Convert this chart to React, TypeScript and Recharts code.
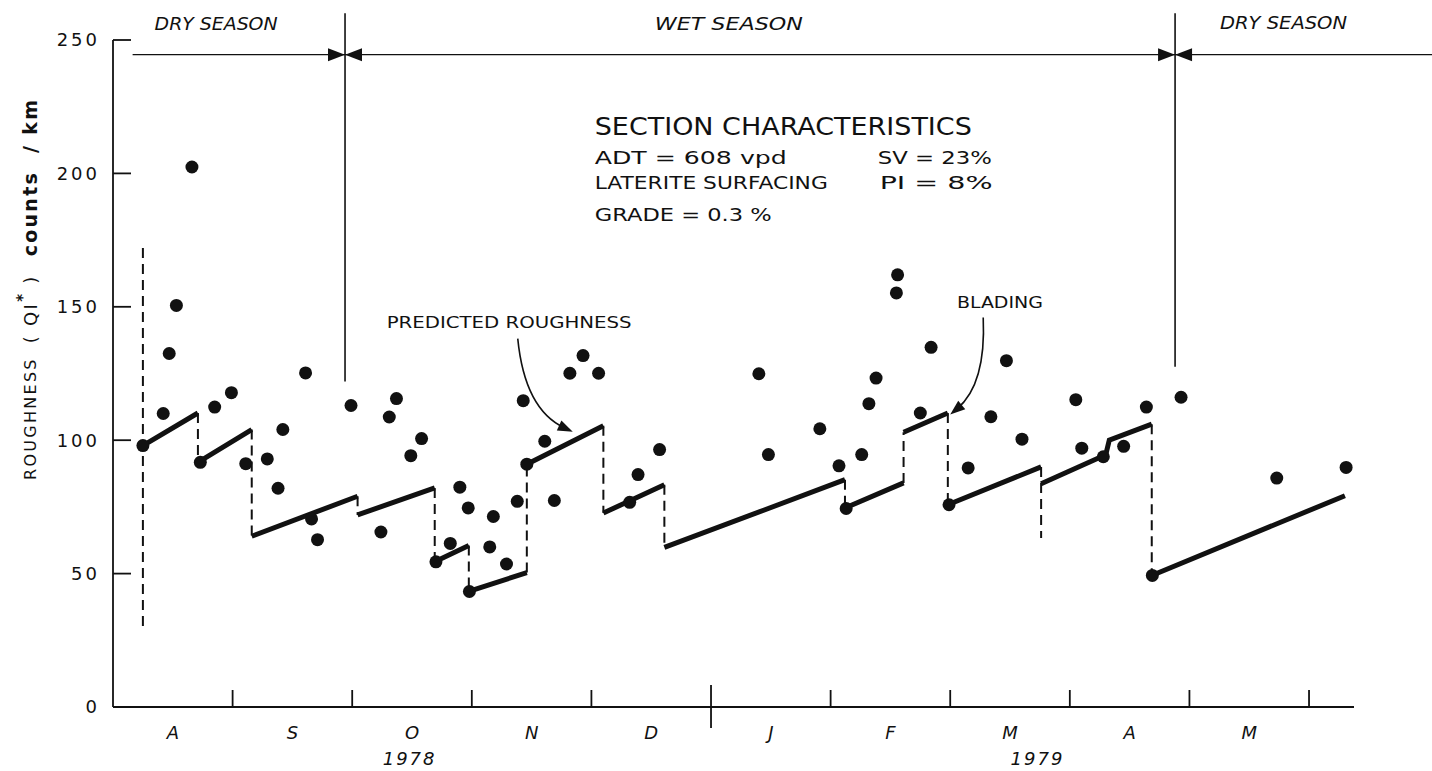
import React from 'react';
import {
  ComposedChart,
  Line,
  Scatter,
  XAxis,
  YAxis,
  ReferenceLine,
  ReferenceDot,
} from 'recharts';

// x = months since 1 Aug 1978, y = roughness QI* counts/km
const monthLabels = ['A', 'S', 'O', 'N', 'D', 'J', 'F', 'M', 'A', 'M'];
const monthTicks = [0.5, 1.5, 2.5, 3.5, 4.5, 5.5, 6.5, 7.5, 8.5, 9.5];
const monthBounds = [1, 2, 3, 4, 5, 6, 7, 8, 9, 10];
const yearBound = 5; // Dec / Jan
const yearTicks = [2.48, 7.73];
const yearLabels = ['1978', '1979'];
const yTicks = [0, 50, 100, 150, 200, 250];
const seasonBounds = [1.94, 8.88];

// measured roughness
const observed: [number, number][] = [
  [0.25, 98], [0.42, 110], [0.47, 132.5], [0.53, 150.5], [0.66, 202.4],
  [0.73, 91.7], [0.85, 112.4], [0.99, 117.8], [1.11, 91.2], [1.29, 93],
  [1.38, 82], [1.42, 104], [1.61, 125.2], [1.66, 70.5], [1.71, 62.7],
  [1.99, 113], [2.24, 65.6], [2.31, 108.7], [2.37, 115.6], [2.49, 94.2],
  [2.58, 100.6], [2.7, 54.4], [2.82, 61.3], [2.9, 82.4], [2.97, 74.6],
  [2.98, 43.3], [3.15, 60], [3.18, 71.4], [3.29, 53.6], [3.38, 77.1],
  [3.43, 114.8], [3.46, 91], [3.61, 99.6], [3.69, 77.4], [3.82, 125.1],
  [3.93, 131.7], [4.06, 125.1], [4.32, 76.7], [4.39, 87.1], [4.57, 96.5],
  [5.4, 124.9], [5.48, 94.6], [5.91, 104.3], [6.07, 90.4], [6.13, 74.4],
  [6.26, 94.6], [6.32, 113.7], [6.38, 123.3], [6.55, 155.2], [6.56, 162],
  [6.75, 110.2], [6.84, 134.8], [6.99, 75.8], [7.15, 89.6], [7.34, 108.8],
  [7.47, 129.8], [7.6, 100.4], [8.05, 115.2], [8.1, 97], [8.28, 93.8],
  [8.45, 97.7], [8.64, 112.4], [8.69, 49.3], [8.93, 116.1], [9.73, 85.8],
  [10.31, 89.8],
];

// predicted roughness, one list per solid run
const predicted: [number, number][][] = [
  [[0.25, 98], [0.71, 110.2]],
  [[0.71, 91.7], [1.16, 104]],
  [[1.16, 64], [2.045, 79]],
  [[2.045, 72], [2.69, 82.1]],
  [[2.69, 54.4], [2.975, 60.5]],
  [[2.975, 43.3], [3.46, 50.4]],
  [[3.46, 91], [4.1, 105.4]],
  [[4.1, 72.7], [4.61, 83.3]],
  [[4.61, 59.8], [6.12, 85.2]],
  [[6.12, 74.6], [6.61, 84]],
  [[6.61, 103], [6.98, 110.2]],
  [[6.98, 75.8], [7.76, 90]],
  [[7.76, 83.7], [8.24, 93.3], [8.3, 94.5], [8.33, 100], [8.685, 106]],
  [[8.685, 49.3], [10.3, 79.2]],
];

// dashed verticals: [month, from, to]
const drops: [number, number, number][] = [
  [0.25, 172, 29], [0.71, 110.2, 91.7], [1.16, 104, 64], [2.045, 79, 72],
  [2.69, 82.1, 54.4], [2.975, 60.5, 43.3], [3.46, 50.4, 91], [4.1, 105.4, 72.7],
  [4.61, 83.3, 59.8], [6.12, 85.2, 74.6], [6.61, 84, 103], [6.98, 110.2, 75.8],
  [7.76, 90, 63.3], [8.685, 106, 49.3],
];

const FONT = 'DejaVu Sans';
const INK = '#111';

const observedData = observed.map(([m, v]) => ({ m, v }));
const predictedData = predicted.flatMap((seg) => [
  ...seg.map(([m, v]) => ({ m, v })),
  { m: seg[seg.length - 1][0], v: null },
]);
const dropData = drops.flatMap(([m, a, b]) => [
  { m, v: a },
  { m, v: b },
  { m, v: null },
]);

const xTicks = [...monthBounds, ...monthTicks, ...yearTicks].sort((a, b) => a - b);

// one axis carries boundary marks, month letters and the year labels
const XTick = (p: any) => {
  const { x, y } = p;
  const v = p.payload.value;
  if (monthBounds.includes(v)) {
    const big = v === yearBound;
    return (
      <line
        x1={x}
        x2={x}
        y1={y - (big ? 22 : 17)}
        y2={big ? y + 21 : y}
        stroke={INK}
        strokeWidth={1.8}
      />
    );
  }
  const yi = yearTicks.indexOf(v);
  if (yi >= 0) {
    return (
      <text
        x={x}
        y={y + 58}
        textAnchor="middle"
        fontFamily={FONT}
        fontSize={18}
        fontStyle="italic"
        letterSpacing={2}
        fill={INK}
      >
        {yearLabels[yi]}
      </text>
    );
  }
  return (
    <text
      x={x}
      y={y + 32}
      textAnchor="middle"
      fontFamily={FONT}
      fontSize={18}
      fontStyle="italic"
      fill={INK}
    >
      {monthLabels[Math.floor(v)]}
    </text>
  );
};

type NoteProps = {
  x: number;
  y: number;
  text: string;
  size: number;
  width: number;
  italic?: boolean;
};

const notes: NoteProps[] = [
  { x: 0.348, y: 256.1, text: 'DRY SEASON', size: 18, width: 123, italic: true },
  { x: 4.53, y: 256.1, text: 'WET  SEASON', size: 18, width: 148, italic: true },
  { x: 9.256, y: 256.7, text: 'DRY SEASON', size: 18, width: 127, italic: true },
  { x: 4.028, y: 217.5, text: 'SECTION  CHARACTERISTICS', size: 25, width: 377 },
  { x: 4.028, y: 205.9, text: 'ADT  =  608 vpd', size: 18, width: 192 },
  { x: 6.395, y: 205.9, text: 'SV = 23%', size: 18, width: 114 },
  { x: 4.028, y: 196.5, text: 'LATERITE SURFACING', size: 18, width: 233 },
  { x: 6.41, y: 196.5, text: 'PI =   8%', size: 18, width: 113 },
  { x: 4.028, y: 184.6, text: 'GRADE = 0.3 %', size: 18, width: 177 },
  { x: 2.288, y: 144, text: 'PREDICTED ROUGHNESS', size: 16, width: 245 },
  { x: 7.056, y: 151.5, text: 'BLADING', size: 16, width: 86 },
];

const NoteShape = (n: NoteProps) => (p: any) => (
  <text
    x={p.cx}
    y={p.cy}
    fontFamily={FONT}
    fontSize={n.size}
    fontStyle={n.italic ? 'italic' : 'normal'}
    fill={INK}
    dominantBaseline="central"
    textLength={n.width}
    lengthAdjust="spacingAndGlyphs"
  >
    {n.text}
  </text>
);

// curved pointer arrows, tip anchored at data coords
const arrows = [
  { x: 3.844, y: 103.2, start: [-55, -93], ctrl: [-48, -22] },
  { x: 7.0, y: 109.6, start: [33, -97], ctrl: [36, -30] },
];

const ArrowShape = (a: { start: number[]; ctrl: number[] }) => (p: any) => {
  const { cx, cy } = p;
  const [sx, sy] = a.start;
  const [qx, qy] = a.ctrl;
  const len = Math.hypot(qx, qy);
  const ux = -qx / len;
  const uy = -qy / len;
  const bx = -ux * 15;
  const by = -uy * 15;
  const px = -uy * 5.5;
  const py = ux * 5.5;
  return (
    <g>
      <path
        d={`M${cx + sx},${cy + sy} Q${cx + qx},${cy + qy} ${cx + bx * 0.6},${cy + by * 0.6}`}
        fill="none"
        stroke={INK}
        strokeWidth={1.6}
      />
      <polygon
        points={`${cx},${cy} ${cx + bx + px},${cy + by + py} ${cx + bx - px},${cy + by - py}`}
        fill={INK}
      />
    </g>
  );
};

const BowTie = (p: any) => {
  const { cx, cy } = p;
  return (
    <g fill={INK}>
      <polygon points={`${cx},${cy} ${cx - 17},${cy - 6.5} ${cx - 17},${cy + 6.5}`} />
      <polygon points={`${cx},${cy} ${cx + 17},${cy - 6.5} ${cx + 17},${cy + 6.5}`} />
    </g>
  );
};

const YLabel = (props: any) => {
  const vb = props.viewBox || { x: 53, y: 40 };
  const cx = vb.x - 23;
  const cy = vb.y + 250;
  return (
    <text
      x={cx}
      y={cy}
      transform={`rotate(-90 ${cx} ${cy})`}
      textAnchor="middle"
      dominantBaseline="central"
      fontFamily={FONT}
      fill={INK}
      textLength={380}
      lengthAdjust="spacing"
    >
      <tspan fontSize={16}>ROUGHNESS</tspan>
      <tspan fontSize={18} dx={14}>( QI</tspan>
      <tspan fontSize={15} fontWeight="bold" dy={-7}>*</tspan>
      <tspan fontSize={18} dy={7}> )</tspan>
      <tspan fontSize={19} fontWeight="bold" dx={18}>counts</tspan>
      <tspan fontSize={19} fontWeight="bold" dx={18}>/ km</tspan>
    </text>
  );
};

export default function App() {
  return (
    <div style={{ position: 'absolute', left: 0, top: 0, background: '#fff' }}>
      <ComposedChart
        width={1432}
        height={771}
        margin={{ top: 40, right: 78, bottom: 0, left: 53 }}
      >
        <XAxis
          xAxisId="main"
          dataKey="m"
          type="number"
          domain={[0, 10.376]}
          allowDataOverflow
          ticks={xTicks}
          interval={0}
          tick={XTick}
          tickSize={0}
          tickMargin={0}
          tickLine={false}
          height={64}
          axisLine={{ stroke: INK, strokeWidth: 1.8 }}
        />
        <YAxis
          yAxisId="y"
          type="number"
          domain={[0, 250]}
          allowDataOverflow
          ticks={yTicks}
          interval={0}
          width={60}
          tickSize={-18}
          tickMargin={31}
          axisLine={{ stroke: INK, strokeWidth: 1.8 }}
          tickLine={{ stroke: INK, strokeWidth: 1.8 }}
          tick={{ fill: INK, fontSize: 18, fontFamily: FONT, letterSpacing: 3 }}
          label={{ content: YLabel }}
        />

        {/* season bar */}
        <ReferenceLine
          xAxisId="main"
          yAxisId="y"
          ifOverflow="visible"
          segment={[{ x: 0.164, y: 244.5 }, { x: 11.03, y: 244.5 }]}
          stroke={INK}
          strokeWidth={1.4}
        />
        <ReferenceLine
          xAxisId="main"
          yAxisId="y"
          ifOverflow="visible"
          segment={[{ x: seasonBounds[0], y: 122 }, { x: seasonBounds[0], y: 260 }]}
          stroke={INK}
          strokeWidth={1.6}
        />
        <ReferenceLine
          xAxisId="main"
          yAxisId="y"
          ifOverflow="visible"
          segment={[{ x: seasonBounds[1], y: 127.5 }, { x: seasonBounds[1], y: 260 }]}
          stroke={INK}
          strokeWidth={1.6}
        />
        {seasonBounds.map((b) => (
          <ReferenceDot
            key={b}
            xAxisId="main"
            yAxisId="y"
            x={b}
            y={244.5}
            ifOverflow="visible"
            shape={BowTie}
          />
        ))}

        <Line
          xAxisId="main"
          yAxisId="y"
          data={dropData}
          dataKey="v"
          stroke={INK}
          strokeWidth={2}
          strokeDasharray="10 6"
          dot={false}
          activeDot={false}
          connectNulls={false}
          isAnimationActive={false}
        />
        <Line
          xAxisId="main"
          yAxisId="y"
          data={predictedData}
          dataKey="v"
          stroke={INK}
          strokeWidth={5}
          dot={false}
          activeDot={false}
          connectNulls={false}
          isAnimationActive={false}
        />
        <Scatter
          xAxisId="main"
          yAxisId="y"
          data={observedData}
          dataKey="v"
          fill={INK}
          isAnimationActive={false}
          shape={(p: any) => <circle cx={p.cx} cy={p.cy} r={6.5} fill={INK} />}
        />

        {notes.map((n) => (
          <ReferenceDot
            key={n.text + n.x}
            xAxisId="main"
            yAxisId="y"
            x={n.x}
            y={n.y}
            ifOverflow="visible"
            shape={NoteShape(n)}
          />
        ))}
        {arrows.map((a) => (
          <ReferenceDot
            key={a.x}
            xAxisId="main"
            yAxisId="y"
            x={a.x}
            y={a.y}
            ifOverflow="visible"
            shape={ArrowShape(a)}
          />
        ))}
      </ComposedChart>
    </div>
  );
}
